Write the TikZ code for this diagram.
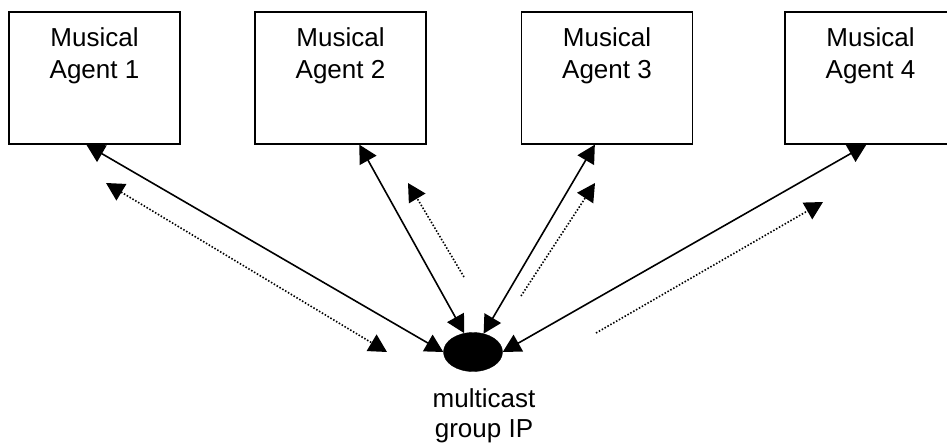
\documentclass[tikz,border=0pt]{standalone}
\usepackage{fontspec}
\setmainfont{Liberation Sans}
\usetikzlibrary{arrows.meta,shapes.geometric,calc}

\tikzset{
  agentbox/.style={draw, line width=1.3pt, rectangle, minimum width=171pt, minimum height=132pt, inner sep=0pt},
  agentlbl/.style={anchor=base, align=center, inner sep=0pt, font=\fontsize{26}{32}\selectfont},
  groupnode/.style={ellipse, fill=black, draw=black, minimum width=59pt, minimum height=39pt, inner sep=0pt},
  grouplbl/.style={anchor=base, align=center, inner sep=0pt, font=\fontsize{26}{30}\selectfont},
  tip/.tip={Triangle[length=18pt, width=19pt]},
  link/.style={line width=1.6pt, tip-tip},
  flow/.style={line width=1.6pt, dash pattern=on 1.5pt off 1.8pt},
}

\begin{document}
\begin{tikzpicture}[x=1pt, y=-1pt]
  \useasboundingbox (0,0) rectangle (947,442);

  % the four agents (label anchored at the baseline of its last line)
  \node[agentbox] (a1) at (94.5,78) {};
  \node[agentbox] (a2) at (340.5,78) {};
  \node[agentbox] (a3) at (607,78) {};
  \node[agentbox] (a4) at (870.5,78) {};
  \foreach \i in {1,...,4}
    \node[agentlbl] (t\i) at ($(a\i.north)+(0,67)$) {Musical\\Agent \i};

  % multicast group
  \node[groupnode] (mc) at (473,352) {};
  \node[grouplbl] (mcl) at ($(mc.south)+(11,65.5)$) {multicast\\group IP};

  % links between agents and the group
  \draw[link] ($(a1.south west)+(78,0)$) -- (mc.west);
  \draw[link] ($(a2.south west)+(105,0)$) -- (mc.115);
  \draw[link] ($(a3.south west)+(74,0)$) -- (mc.60);
  \draw[link] ($(a4.south west)+(82,0)$) -- (mc.east);

  % message flow indicators
  \coordinate (f1a) at (106,183);
  \coordinate (f1b) at (387,352);
  \coordinate (f2a) at (464,277);
  \coordinate (f2b) at (408,183);
  \coordinate (f3a) at (521,296);
  \coordinate (f3b) at (595,183);
  \coordinate (f4a) at (596,333);
  \coordinate (f4b) at (823,202);
  \draw[flow, tip-tip] (f1a) -- (f1b);
  \draw[flow, -tip] (f2a) -- (f2b);
  \draw[flow, -tip] (f3a) -- (f3b);
  \draw[flow, -tip] (f4a) -- (f4b);
\end{tikzpicture}
\end{document}
